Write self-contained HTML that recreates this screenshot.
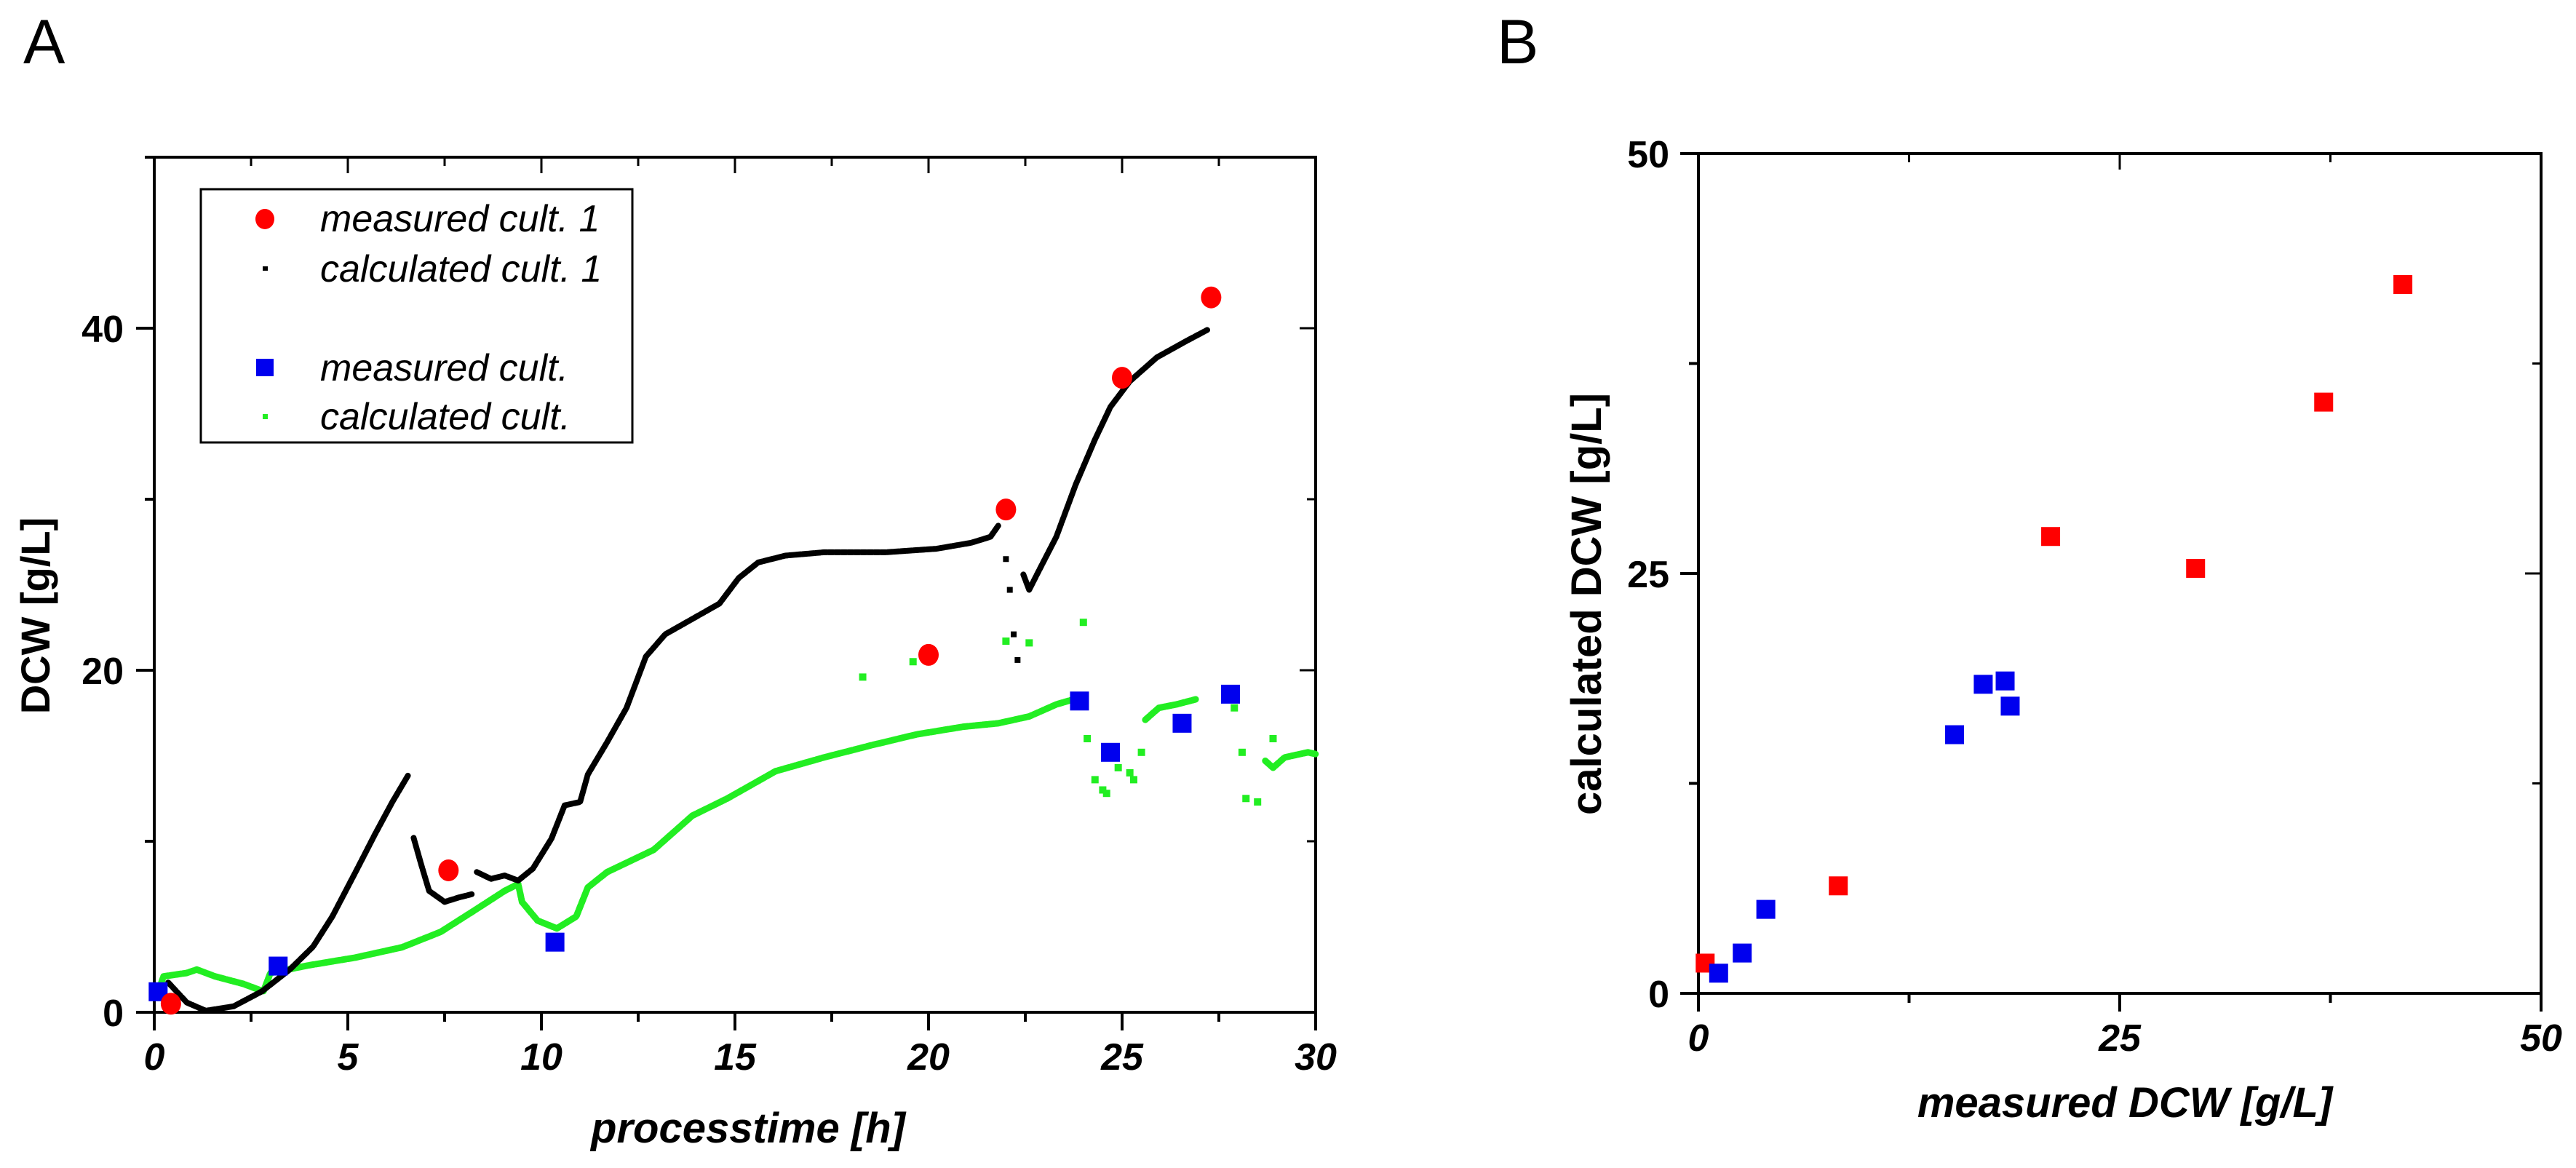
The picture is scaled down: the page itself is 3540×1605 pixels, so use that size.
<!DOCTYPE html>
<html><head><meta charset="utf-8"><style>
html,body{margin:0;padding:0;background:#fff}
svg{display:block;font-family:"Liberation Sans",Arial,sans-serif}
</style></head><body>
<svg id="fig" width="3540" height="1605" viewBox="0 0 3540 1605" xmlns="http://www.w3.org/2000/svg">
<rect width="3540" height="1605" fill="#fff"/>
<g id="panelA"></g>
<g id="panelB"></g>
</svg>
<script>
// ---------- Panel A data ----------
const aMeasured1T = [0.43, 7.6, 20.0, 22.0, 25.0, 27.3];
const aMeasured1V = [0.5, 8.3, 20.9, 29.4, 37.1, 41.8];
const aMeasured2T = [0.1, 3.2, 10.35, 23.9, 24.7, 26.55, 27.8];
const aMeasured2V = [1.2, 2.7, 4.1, 18.2, 15.2, 16.9, 18.6];
const blackSeg1T = [0.36,0.84,1.33,2.05,2.78,3.5,4.1,4.6,5.2,5.7,6.15,6.57];
const blackSeg1V = [1.74,0.57,0.09,0.35,1.22,2.5,3.83,5.6,8.2,10.4,12.3,13.9];
const blackSeg2T = [6.7,6.9,7.1,7.5,7.85,8.2];
const blackSeg2V = [10.2,8.6,7.1,6.45,6.7,6.9];
const blackSeg3T = [8.33,8.7,9.05,9.4,9.78,10.26,10.6,11.0,11.2,11.7,12.2,12.7,13.2,13.9,14.6,15.1,15.6,16.3,17.3,18.9,20.2,21.1,21.6,21.8];
const blackSeg3V = [8.2,7.8,8.0,7.7,8.4,10.15,12.1,12.3,13.9,15.8,17.8,20.8,22.1,23.0,23.9,25.4,26.3,26.7,26.9,26.9,27.1,27.45,27.8,28.45];
const blackDotsT = [22.0,22.1,22.2,22.3];
const blackDotsV = [26.5,24.7,22.1,20.6];
const blackSeg4T = [22.45,22.6,22.8,23.3,23.8,24.3,24.7,25.2,25.9,26.7,27.2];
const blackSeg4V = [25.6,24.7,25.6,27.8,30.85,33.5,35.4,36.9,38.3,39.3,39.9];
const greenSeg1T = [0.07,0.24,0.84,1.1,1.57,2.3,2.82,3.0,4.0,5.2,6.4,7.4,8.3,9.05,9.4,9.5,9.9,10.4,10.9,11.2,11.7,12.9,13.9,14.8,16.05,17.3,18.5,19.7,20.9,21.8,22.6,23.3,23.9];
const greenSeg1V = [1.0,2.1,2.3,2.5,2.1,1.66,1.22,2.3,2.75,3.2,3.8,4.7,6.0,7.1,7.5,6.45,5.36,4.9,5.6,7.3,8.2,9.5,11.5,12.5,14.1,14.9,15.6,16.25,16.7,16.9,17.3,18.0,18.4];
const greenSeg2T = [25.6,25.95,26.4,26.9];
const greenSeg2V = [17.1,17.8,18.0,18.3];
const greenSeg3T = [28.7,28.9,29.2,29.8,30.0];
const greenSeg3V = [14.7,14.3,14.9,15.2,15.1];
const greenDotsT = [18.3,19.6,22.0,22.6,24.0,24.1,24.3,24.5,24.6,24.9,25.2,25.3,25.5,27.9,28.1,28.2,28.5,28.9];
const greenDotsV = [19.6,20.5,21.7,21.6,22.8,16.0,13.6,13.0,12.8,14.3,14.0,13.6,15.2,17.8,15.2,12.5,12.3,16.0];
const aXTicks = [0,5,10,15,20,25,30];
const aYTicks = [0,20,40];
// ---------- Panel B data ----------
const bRedX = [0.4, 8.3, 20.9, 29.5, 37.1, 41.8];
const bRedY = [1.8, 6.4, 27.2, 25.3, 35.2, 42.2];
const bBlueX = [1.2, 2.6, 4.0, 15.2, 16.9, 18.2, 18.5];
const bBlueY = [1.2, 2.4, 5.0, 15.4, 18.4, 18.6, 17.1];
const bTicks = [0,25,50];

const NS = "http://www.w3.org/2000/svg";
function mk(parent, tag, attrs, text){
  const e = document.createElementNS(NS, tag);
  for (const k in attrs) e.setAttribute(k, attrs[k]);
  if (text !== undefined) e.textContent = text;
  parent.appendChild(e);
  return e;
}
// Panel A scales
const AX0=212, AX1=1808, AY0=1391, AY1=216;
const ax = t => AX0 + (t/30)*(AX1-AX0);
const ay = v => AY0 - (v/50)*(AY0-AY1);
// Panel B scales
const BX0=2334, BX1=3492, BY0=1365, BY1=211;
const bx = v => BX0 + (v/50)*(BX1-BX0);
const by = v => BY0 - (v/50)*(BY0-BY1);

const A = document.getElementById('panelA');
const B = document.getElementById('panelB');

function axesFrame(g, x0,x1,y0,y1, xMajor, xMinor, yMajor, yMinor){
  const f = mk(g,'rect',{x:x0,y:y1,width:x1-x0,height:y0-y1,fill:'none',stroke:'#000','stroke-width':4});
  
  
  xMajor.forEach(x=>{ mk(g,'line',{x1:x,x2:x,y1:y0,y2:y0+25,stroke:'#000','stroke-width':4}); mk(g,'line',{x1:x,x2:x,y1:y1,y2:y1+22,stroke:'#000','stroke-width':3}); });
  xMinor.forEach(x=>{ mk(g,'line',{x1:x,x2:x,y1:y0,y2:y0+13,stroke:'#000','stroke-width':4}); mk(g,'line',{x1:x,x2:x,y1:y1,y2:y1+12,stroke:'#000','stroke-width':3}); });
  yMajor.forEach(y=>{ mk(g,'line',{x1:x0-25,x2:x0,y1:y,y2:y,stroke:'#000','stroke-width':4}); mk(g,'line',{x1:x1-22,x2:x1,y1:y,y2:y,stroke:'#000','stroke-width':3}); });
  yMinor.forEach(y=>{ mk(g,'line',{x1:x0-13,x2:x0,y1:y,y2:y,stroke:'#000','stroke-width':4}); mk(g,'line',{x1:x1-12,x2:x1,y1:y,y2:y,stroke:'#000','stroke-width':3}); });
}

// ---- Panel A ----
let t = mk(A,'text',{x:32,y:87,'font-size':86},'A');
 
axesFrame(A, AX0,AX1,AY0,AY1,
  aXTicks.map(ax), [2.5,7.5,12.5,17.5,22.5,27.5].map(ax),
  aYTicks.map(ay), [10,30,50].map(ay));
aXTicks.forEach(v=>{
  const e = mk(A,'text',{x:ax(v),y:1470,'font-size':52,'font-weight':'bold','font-style':'italic','text-anchor':'middle'},String(v));
   
});
aYTicks.forEach(v=>{
  const e = mk(A,'text',{x:170,y:ay(v)+19,'font-size':52,'font-weight':'bold','text-anchor':'end'},String(v));
   
});
t = mk(A,'text',{x:1028,y:1570,'font-size':58,'font-weight':'bold','font-style':'italic','text-anchor':'middle'},'processtime [h]');
 
t = mk(A,'text',{x:0,y:0,'font-size':56,'font-weight':'bold','text-anchor':'middle',transform:'translate(68,846) rotate(-90)'},'DCW [g/L]');
 

function seg(g, T, V, color, w, name){
  const pts = T.map((tt,i)=>ax(tt).toFixed(1)+','+ay(V[i]).toFixed(1)).join(' ');
  const p = mk(g,'polyline',{points:pts,fill:'none',stroke:color,'stroke-width':w,'stroke-linejoin':'round','stroke-linecap':'round','stroke-dasharray':'7 2'});
   
}
function dots(g, T, V, color, r, name){
  T.forEach((tt,i)=>{
    const c = mk(g,'rect',{x:ax(tt)-r,y:ay(V[i])-r,width:2*r,height:2*r,fill:color});
     
  });
}
seg(A, greenSeg1T, greenSeg1V, '#22ee22', 9, 'calculated-cult-2-line');
seg(A, greenSeg2T, greenSeg2V, '#22ee22', 9, 'calculated-cult-2-line');
seg(A, greenSeg3T, greenSeg3V, '#22ee22', 9, 'calculated-cult-2-line');
dots(A, greenDotsT, greenDotsV, '#22ee22', 5, 'calculated-cult-2-point');
seg(A, blackSeg1T, blackSeg1V, '#000', 8, 'calculated-cult-1-line');
seg(A, blackSeg2T, blackSeg2V, '#000', 8, 'calculated-cult-1-line');
seg(A, blackSeg3T, blackSeg3V, '#000', 8, 'calculated-cult-1-line');
seg(A, blackSeg4T, blackSeg4V, '#000', 8, 'calculated-cult-1-line');
dots(A, blackDotsT, blackDotsV, '#000', 4, 'calculated-cult-1-point');
aMeasured2T.forEach((tt,i)=>{
  const r = mk(A,'rect',{x:ax(tt)-13,y:ay(aMeasured2V[i])-13,width:26,height:26,fill:'#0000ee'});
   
});
aMeasured1T.forEach((tt,i)=>{
  const c = mk(A,'ellipse',{cx:ax(tt),cy:ay(aMeasured1V[i]),rx:14,ry:15,fill:'#ff0000'});
   
});
// legend
const L = mk(A,'g',{});
 
mk(L,'rect',{x:276,y:260,width:593,height:348,fill:'#fff',stroke:'#000','stroke-width':3});
mk(L,'ellipse',{cx:364,cy:301,rx:13,ry:14,fill:'#ff0000'});
mk(L,'rect',{x:361,y:366,width:7,height:6,fill:'#000'});
mk(L,'rect',{x:352,y:493,width:24,height:24,fill:'#0000ee'});
mk(L,'rect',{x:361,y:569,width:7,height:7,fill:'#22ee22'});
const legTexts = ['measured cult. 1','calculated cult. 1','measured cult.','calculated cult.'];
const legY = [318,387,523,590];
legTexts.forEach((s,i)=>{
  const e = mk(L,'text',{x:440,y:legY[i],'font-size':52,'font-style':'italic'},s);
   
});

// ---- Panel B ----
t = mk(B,'text',{x:2057,y:87,'font-size':86},'B');
 
axesFrame(B, BX0,BX1,BY0,BY1, bTicks.map(bx), [12.5,37.5].map(bx), bTicks.map(by), [12.5,37.5].map(by));
bTicks.forEach(v=>{
  const e = mk(B,'text',{x:bx(v),y:1444,'font-size':52,'font-weight':'bold','font-style':'italic','text-anchor':'middle'},String(v));
   
  const f = mk(B,'text',{x:2294,y:by(v)+19,'font-size':52,'font-weight':'bold','text-anchor':'end'},String(v));
   
});
t = mk(B,'text',{x:2920,y:1535,'font-size':58,'font-weight':'bold','font-style':'italic','text-anchor':'middle'},'measured DCW [g/L]');
 
t = mk(B,'text',{x:0,y:0,'font-size':58,'font-weight':'bold','text-anchor':'middle',transform:'translate(2200,830) rotate(-90)'},'calculated DCW [g/L]');
 
bRedX.forEach((v,i)=>{
  const r = mk(B,'rect',{x:bx(v)-13,y:by(bRedY[i])-13,width:26,height:26,fill:'#ff0000'});
   
});
bBlueX.forEach((v,i)=>{
  const r = mk(B,'rect',{x:bx(v)-13,y:by(bBlueY[i])-13,width:26,height:26,fill:'#0000ee'});
   
});
</script>
</body></html>
